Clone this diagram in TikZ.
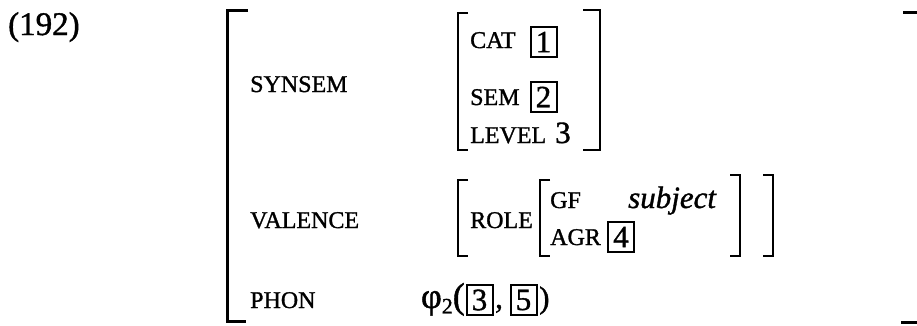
\documentclass[tikz,border=0pt]{standalone}
\usepackage{fontspec}
\setmainfont[FakeBold=1.2]{Liberation Serif}
\begin{document}
\begin{tikzpicture}[x=1pt,y=-1pt,
  lab/.style={font=\fontsize{24}{24}\selectfont, anchor=base west, inner sep=0pt},
  val/.style={font=\fontsize{31}{31}\selectfont, anchor=base west, inner sep=0pt},
  tag/.style={draw, line width=2pt, font=\fontsize{31}{31}\selectfont, minimum width=26pt, minimum height=30pt, inner sep=0pt},
  brk/.style={line width=2.4pt},
  obrk/.style={line width=3pt}]
\useasboundingbox (0,0) rectangle (917,325);
% example number
\node[val, font=\fontsize{33}{33}\selectfont] (num) at (8,35) {(192)};
% outer bracket
\draw[obrk] (248,10) -- (227,10) -- (227,321) -- (246,321);
\draw[obrk] (903,12) -- (917,12);
\draw[obrk] (901,322) -- (917,322);
% SYNSEM
\node[lab] (synsem) at (250,92) {SYNSEM};
\draw[brk] (468,13) -- (458,13) -- (458,150) -- (468,150);
\draw[brk] (583,10) -- (600,10) -- (600,150) -- (583,150);
\node[lab] (cat) at (470,48) {CAT};
\node[tag] (t1) at (543.5,42) {1};
\node[lab] (sem) at (470,105) {SEM};
\node[tag] (t2) at (543.5,97) {2};
\node[lab] (level) at (470,143) {LEVEL};
\node[val] (three) at (555,143) {3};
% VALENCE
\node[lab] (valence) at (250,228) {VALENCE};
\draw[brk] (468,180) -- (458,180) -- (458,256) -- (468,256);
\node[lab] (role) at (470,228) {ROLE};
\draw[brk] (550,180) -- (540,180) -- (540,256) -- (550,256);
\node[lab] (gf) at (550,208) {GF};
\node[val, font=\fontsize{31}{31}\selectfont\itshape] (subj) at (628,208) {subject};
\node[lab] (agr) at (550,245) {AGR};
\node[tag] (t4) at (621,237) {4};
\draw[brk] (730,175) -- (740,175) -- (740,256) -- (730,256);
\draw[brk] (763,175) -- (773,175) -- (773,256) -- (763,256);
% PHON
\node[lab] (phon) at (250,308) {PHON};
\node[val, anchor=base east, font=\fontsize{36}{36}\selectfont] (phi) at (465,308) {φ\raisebox{-0.15em}{\fontsize{22}{22}\selectfont 2}(};
\node[tag] (t3) at (479.5,300) {3};
\node[val] (comma) at (495,308) {,};
\node[tag] (t5) at (523.5,300) {5};
\node[val] (close) at (539,308) {)};
\end{tikzpicture}
\end{document}
